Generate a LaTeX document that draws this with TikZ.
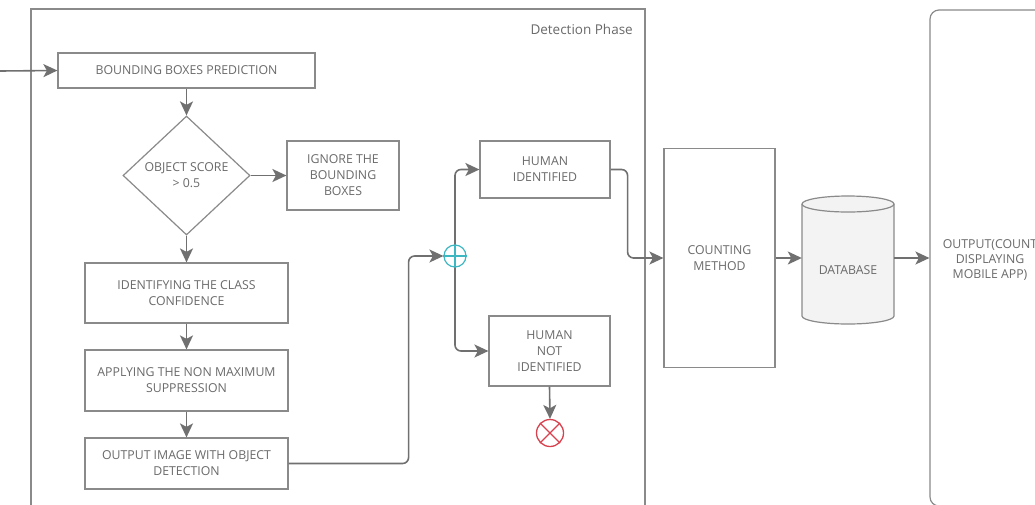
\documentclass[tikz,border=0pt]{standalone}
\usepackage{fontspec}
\setmainfont{Open Sans}
\usetikzlibrary{shapes.geometric,arrows.meta,calc}
\definecolor{linegray}{HTML}{8A8A8A}
\definecolor{arrgray}{HTML}{707070}
\definecolor{txtgray}{HTML}{6A6A6A}
\definecolor{jteal}{HTML}{3DB8C2}
\definecolor{endred}{HTML}{D8424E}
\definecolor{dbfill}{HTML}{F3F3F3}
\tikzset{
  stepbox/.style={draw=linegray, line width=1.2pt, fill=white, text=txtgray,
    font=\fontsize{12.3}{16}\selectfont, align=center, inner sep=2pt, rectangle},
  decision/.style={stepbox, diamond, inner sep=0pt},
  frameline/.style={draw=linegray, line width=1.2pt},
  arr/.style={draw=arrgray, line width=1.6pt, rounded corners=6pt, arrows={-Stealth[length=14pt,width=13pt,inset=3.5pt]}},
  plain/.style={text=txtgray, font=\fontsize{12.3}{15}\selectfont, align=center, inner sep=0pt}
}
\begin{document}
\begin{tikzpicture}[x=1pt,y=-1pt]
\useasboundingbox (0,0) rectangle (1035,504);
\clip (0,0) rectangle (1035,504);
\fill[white] (0,0) rectangle (1035,504);
% frames
\draw[frameline] (31,9) rectangle (645,530);
\node[plain, anchor=east, font=\fontsize{13.5}{16}\selectfont] (dp) at (633,29) {Detection Phase};
\node[frameline, rounded corners=9pt, minimum width=180pt, minimum height=496pt, inner sep=0pt] (of) at (1020,258) {};
\node[plain] (ot) at (990,260) {OUTPUT(COUNT\\DISPLAYING\\MOBILE APP)};
% left column
\node[stepbox, minimum width=257pt, minimum height=35pt] (b1) at (186.5,70.5) {BOUNDING BOXES PREDICTION};
\node[decision, minimum width=127pt, minimum height=119pt] (dia) at (186.5,175.5) {OBJECT SCORE\\> 0.5};
\node[stepbox, minimum width=112pt, minimum height=69pt] (ign) at (343,175.5) {IGNORE THE\\BOUNDING\\BOXES};
\node[stepbox, minimum width=203pt, minimum height=60pt] (ci) at (186.5,293) {IDENTIFYING THE CLASS\\CONFIDENCE};
\node[stepbox, minimum width=203pt, minimum height=61pt] (nms) at (186.5,380.5) {APPLYING THE NON MAXIMUM\\SUPPRESSION};
\node[stepbox, minimum width=203pt, minimum height=51pt] (out) at (186.5,463.5) {OUTPUT IMAGE WITH OBJECT\\DETECTION};
% middle
\node[circle, draw=jteal, line width=1.2pt, minimum size=22pt, inner sep=0pt] (j) at (455,256) {};
\draw[jteal, line width=1.2pt] (j.north) -- (j.south) (j.west) -- (j.east);
\node[stepbox, minimum width=130pt, minimum height=57pt] (hi) at (545,169.5) {HUMAN\\IDENTIFIED};
\node[stepbox, minimum width=121pt, minimum height=70pt] (hni) at (549.5,351) {HUMAN\\NOT\\IDENTIFIED};
\node[circle, draw=endred, line width=1.3pt, minimum size=27pt, inner sep=0pt] (end) at (550,433) {};
\draw[endred, line width=1.3pt] (end.north west) -- (end.south east) (end.north east) -- (end.south west);
% right
\node[stepbox, minimum width=111pt, minimum height=219pt] (cm) at (719.5,258) {COUNTING\\METHOD};
\draw[draw=linegray, line width=1.2pt, fill=dbfill]
  (802,204) -- (802,316) arc(180:0:46 and 8) -- (894,204) arc(0:-180:46 and 8) -- cycle;
\draw[draw=linegray, line width=1.2pt] (802,204) arc(180:0:46 and 8);
\node[minimum width=92pt, minimum height=128pt, inner sep=0pt] (db) at (848,258) {};
\node[plain] (dbl) at (848,270) {DATABASE};
% connectors
\coordinate (in) at (0,71);
\draw[arr] (in) -- (b1.west);
\draw[arr] (b1.south) -- (dia.north);
\draw[arr] (dia.east) -- (ign.west);
\draw[arr] (dia.south) -- (ci.north);
\draw[arr] (ci.south) -- (nms.north);
\draw[arr] (nms.south) -- (out.north);
\draw[arr] (out.east) -- ++(120,0) |- (j.west);
\draw[arr] (j.north) |- (hi.west);
\draw[arr] (j.south) |- (hni.west);
\draw[arr] (hni.south) -- (end.north);
\draw[arr] (hi.east) -- ++(17,0) |- (cm.west);
\draw[arr] (cm.east) -- (db.west);
\draw[arr] (db.east) -- (of.west);
\end{tikzpicture}
\end{document}
